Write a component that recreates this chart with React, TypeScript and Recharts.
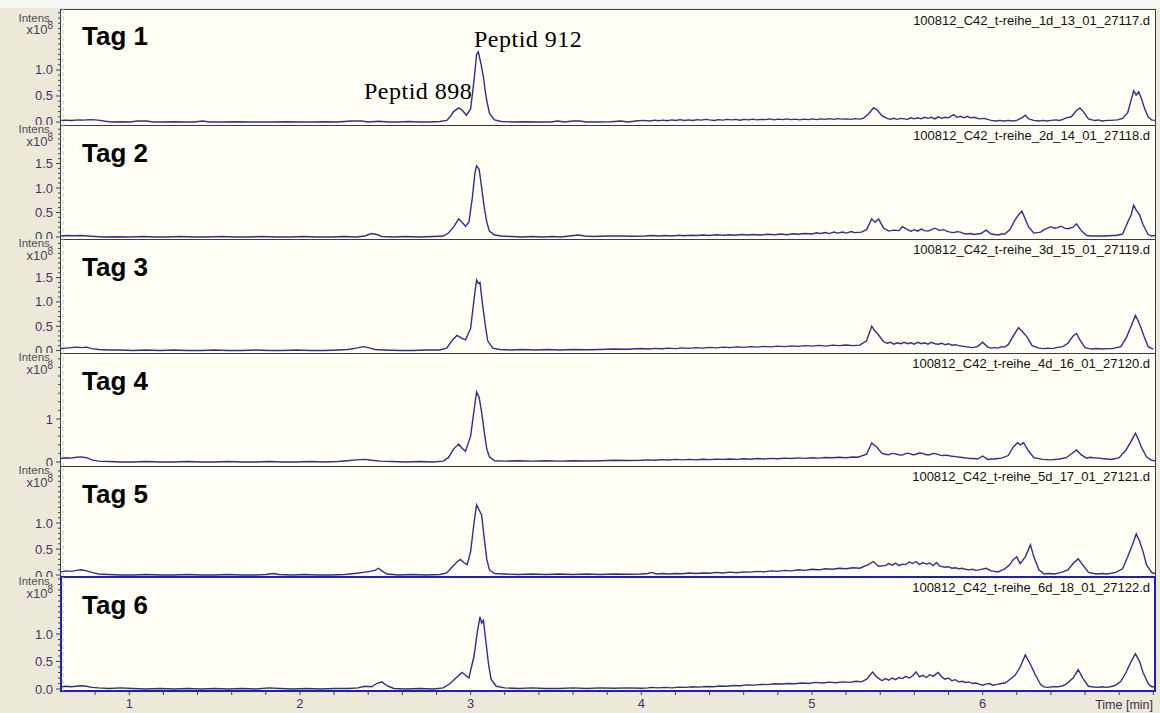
import React from 'react';
import { LineChart, Line, XAxis, YAxis, ReferenceLine } from 'recharts';

// ---------- data ----------
const timeDomain: [number, number] = [0.6, 7.01];
const xLabelTicks = [1, 2, 3, 4, 5, 6];
const tagLabels = ['Tag 1', 'Tag 2', 'Tag 3', 'Tag 4', 'Tag 5', 'Tag 6'];
const fileNames = [
  '100812_C42_t-reihe_1d_13_01_27117.d',
  '100812_C42_t-reihe_2d_14_01_27118.d',
  '100812_C42_t-reihe_3d_15_01_27119.d',
  '100812_C42_t-reihe_4d_16_01_27120.d',
  '100812_C42_t-reihe_5d_17_01_27121.d',
  '100812_C42_t-reihe_6d_18_01_27122.d',
];
const yLabelTicks = [
  [0, 0.5, 1.0],
  [0, 0.5, 1.0, 1.5],
  [0, 0.5, 1.0, 1.5],
  [0, 1],
  [0, 0.5, 1.0],
  [0, 0.5, 1.0],
];
const yDomains: [number, number][] = [
  [-0.058, 2.173],
  [-0.041, 2.286],
  [-0.051, 2.294],
  [-0.093, 2.535],
  [-0.038, 2.096],
  [-0.036, 2.036],
];
const peptideLabels = ['Peptid 912', 'Peptid 898'];

// intensities (x10^8) vs time [min]
const tag1: [number, number][] = [
  [0.60,0.03],[0.63,0.035],[0.66,0.03],[0.70,0.04],[0.73,0.035],[0.77,0.045],[0.80,0.04],[0.83,0.03],[0.86,0.015],[0.90,0.0],
  [0.95,0.005],[1.00,0.0],[1.05,0.02],[1.10,0.02],[1.14,0.0],[1.20,0.0],[1.26,0.005],[1.32,0.0],[1.38,0.0],[1.43,0.02],
  [1.47,0.0],[1.55,0.0],[1.62,0.005],[1.70,0.0],[1.78,0.0],[1.85,0.0],[1.92,0.005],[2.00,0.0],[2.08,0.0],[2.15,0.005],
  [2.22,0.0],[2.30,0.02],[2.36,0.02],[2.40,0.0],[2.46,0.015],[2.52,0.0],[2.58,0.0],[2.64,0.01],[2.70,0.0],[2.76,0.0],
  [2.82,0.01],[2.86,0.03],[2.88,0.1],[2.90,0.2],[2.93,0.27],[2.95,0.23],[2.975,0.13],[3.00,0.25],[3.02,0.8],[3.035,1.3],
  [3.045,1.35],[3.06,1.13],[3.075,0.87],[3.09,0.49],[3.11,0.17],[3.14,0.04],[3.18,0.01],[3.25,0.0],[3.32,0.005],[3.40,0.0],
  [3.47,0.0],[3.51,0.02],[3.55,0.0],[3.60,0.02],[3.64,0.02],[3.68,0.0],[3.75,0.0],[3.82,0.005],[3.88,0.02],[3.92,0.0],
  [3.97,0.02],[4.01,0.03],[4.05,0.02],[4.08,0.035],[4.10,0.025],[4.13,0.035],[4.15,0.025],[4.18,0.04],[4.20,0.03],[4.23,0.045],
  [4.25,0.03],[4.28,0.04],[4.30,0.03],[4.33,0.045],[4.35,0.035],[4.38,0.05],[4.40,0.04],[4.43,0.03],[4.45,0.045],[4.48,0.035],
  [4.50,0.05],[4.53,0.04],[4.55,0.05],[4.58,0.035],[4.60,0.05],[4.63,0.04],[4.65,0.055],[4.68,0.04],[4.70,0.05],[4.73,0.045],
  [4.75,0.06],[4.78,0.04],[4.80,0.055],[4.83,0.045],[4.85,0.06],[4.88,0.045],[4.90,0.055],[4.93,0.04],[4.95,0.055],[4.98,0.045],
  [5.00,0.06],[5.03,0.045],[5.05,0.06],[5.08,0.05],[5.10,0.065],[5.13,0.05],[5.15,0.065],[5.18,0.055],[5.20,0.06],[5.23,0.05],
  [5.25,0.065],[5.28,0.055],[5.30,0.07],[5.33,0.15],[5.36,0.27],
  [5.38,0.24],[5.41,0.12],[5.44,0.07],[5.46,0.05],[5.48,0.07],[5.50,0.05],[5.52,0.07],[5.54,0.06],[5.56,0.05],[5.58,0.08],
  [5.60,0.06],[5.62,0.08],[5.64,0.06],[5.66,0.09],[5.68,0.07],[5.70,0.09],[5.72,0.06],[5.74,0.1],[5.76,0.07],[5.78,0.09],
  [5.80,0.08],[5.83,0.14],[5.85,0.09],[5.87,0.11],[5.89,0.08],[5.91,0.11],[5.93,0.08],[5.95,0.09],[5.98,0.06],[6.01,0.07],
  [6.05,0.03],[6.08,0.02],[6.10,0.03],[6.13,0.02],[6.15,0.03],[6.18,0.02],[6.20,0.03],[6.23,0.08],[6.25,0.13],[6.27,0.06],
  [6.30,0.03],[6.33,0.02],[6.35,0.03],[6.38,0.02],[6.40,0.03],[6.43,0.04],[6.45,0.03],[6.47,0.05],[6.49,0.08],[6.52,0.1],
  [6.55,0.22],[6.57,0.27],[6.59,0.2],[6.62,0.06],[6.64,0.04],[6.66,0.03],[6.68,0.04],[6.70,0.02],[6.73,0.03],[6.75,0.03],
  [6.79,0.04],[6.82,0.07],[6.85,0.18],[6.87,0.42],[6.885,0.6],[6.90,0.52],[6.915,0.58],[6.93,0.45],[6.95,0.25],[6.97,0.1],
  [6.99,0.04],[7.01,0.03],
];
const tag2: [number, number][] = [
  [0.60,0.02],[0.64,0.03],[0.68,0.025],[0.72,0.03],[0.76,0.02],[0.80,0.01],[0.85,0.0],[0.92,0.005],[1.00,0.0],[1.08,0.01],
  [1.15,0.0],[1.22,0.0],[1.30,0.01],[1.38,0.0],[1.46,0.0],[1.54,0.01],[1.62,0.0],[1.70,0.0],[1.78,0.01],[1.86,0.0],
  [1.94,0.0],[2.02,0.01],[2.10,0.0],[2.18,0.0],[2.26,0.01],[2.33,0.0],[2.38,0.02],[2.42,0.07],[2.45,0.05],[2.48,0.01],
  [2.55,0.0],[2.62,0.01],[2.70,0.0],[2.78,0.01],[2.84,0.02],[2.87,0.08],[2.90,0.2],[2.93,0.37],[2.95,0.3],[2.97,0.22],
  [2.99,0.3],[3.01,0.8],[3.025,1.3],[3.035,1.45],[3.05,1.38],[3.065,1.0],[3.08,0.6],[3.095,0.3],[3.11,0.12],[3.14,0.04],
  [3.18,0.02],[3.24,0.01],[3.30,0.0],[3.36,0.01],[3.42,0.0],[3.48,0.01],[3.53,0.0],[3.58,0.02],[3.63,0.04],[3.67,0.02],
  [3.72,0.01],[3.80,0.02],[3.88,0.02],[3.95,0.015],[4.02,0.02],[4.06,0.03],[4.10,0.02],[4.14,0.03],[4.18,0.02],[4.22,0.035],
  [4.25,0.025],[4.29,0.035],[4.32,0.03],[4.36,0.04],[4.40,0.03],[4.44,0.045],[4.48,0.035],[4.52,0.045],[4.55,0.035],[4.59,0.05],
  [4.62,0.04],[4.66,0.05],[4.70,0.04],[4.74,0.055],[4.78,0.045],[4.82,0.06],[4.85,0.045],[4.89,0.065],[4.92,0.055],[4.96,0.07],
  [5.00,0.06],[5.03,0.085],[5.05,0.07],[5.08,0.09],[5.10,0.07],[5.13,0.1],[5.15,0.08],[5.18,0.1],[5.20,0.08],[5.23,0.11],
  [5.25,0.09],[5.29,0.1],[5.32,0.15],[5.35,0.37],[5.37,0.3],[5.39,0.37],[5.42,0.18],[5.45,0.12],
  [5.48,0.14],[5.51,0.13],[5.53,0.21],[5.56,0.15],[5.58,0.12],[5.60,0.15],[5.62,0.12],[5.64,0.16],[5.66,0.13],[5.68,0.12],
  [5.70,0.15],[5.72,0.18],[5.75,0.13],[5.77,0.15],[5.79,0.12],[5.81,0.1],[5.83,0.09],[5.85,0.11],[5.87,0.1],[5.89,0.07],
  [5.91,0.06],[5.93,0.07],[5.95,0.05],[5.97,0.06],[5.99,0.07],[6.02,0.14],[6.05,0.06],[6.07,0.05],[6.09,0.04],[6.11,0.06],
  [6.13,0.06],[6.16,0.15],[6.19,0.35],[6.21,0.45],[6.23,0.53],[6.25,0.36],[6.27,0.2],[6.30,0.08],[6.34,0.1],[6.36,0.15],
  [6.38,0.18],[6.40,0.21],[6.42,0.18],[6.44,0.19],[6.46,0.22],[6.48,0.18],[6.50,0.17],[6.53,0.2],[6.55,0.27],[6.58,0.12],
  [6.61,0.03],[6.64,0.02],[6.66,0.02],[6.70,0.02],[6.72,0.02],[6.76,0.03],[6.78,0.03],[6.82,0.06],
  [6.85,0.3],[6.87,0.45],[6.885,0.65],[6.90,0.55],[6.92,0.45],[6.94,0.25],[6.97,0.05],[6.99,0.02],[7.01,0.03],
];
const tag3: [number, number][] = [
  [0.60,0.04],[0.63,0.05],[0.66,0.06],[0.69,0.07],[0.72,0.06],[0.75,0.07],[0.78,0.04],[0.82,0.02],[0.88,0.01],[0.95,0.01],
  [1.02,0.0],[1.10,0.01],[1.18,0.0],[1.26,0.01],[1.34,0.0],[1.42,0.0],[1.50,0.01],[1.58,0.0],[1.66,0.0],[1.74,0.01],
  [1.82,0.0],[1.90,0.0],[1.98,0.01],[2.06,0.0],[2.14,0.0],[2.22,0.01],[2.28,0.02],[2.33,0.05],[2.37,0.08],[2.40,0.06],
  [2.44,0.02],[2.50,0.01],[2.58,0.0],[2.66,0.0],[2.74,0.01],[2.82,0.01],[2.86,0.05],[2.89,0.2],[2.92,0.31],[2.95,0.25],
  [2.97,0.22],[3.00,0.45],[3.02,1.05],[3.035,1.45],[3.045,1.38],[3.055,1.4],[3.07,0.95],[3.085,0.55],[3.10,0.2],[3.13,0.05],
  [3.17,0.02],[3.24,0.01],[3.30,0.02],[3.38,0.01],[3.45,0.02],[3.52,0.01],[3.60,0.02],[3.68,0.015],[3.76,0.02],[3.84,0.03],
  [3.92,0.025],[4.00,0.04],[4.04,0.03],[4.08,0.045],[4.12,0.035],[4.16,0.05],[4.20,0.04],[4.24,0.055],[4.28,0.045],[4.32,0.06],
  [4.36,0.05],[4.40,0.065],[4.44,0.055],[4.48,0.07],[4.52,0.06],[4.56,0.075],[4.60,0.065],[4.64,0.08],[4.68,0.07],[4.72,0.085],
  [4.76,0.075],[4.80,0.09],[4.84,0.08],[4.88,0.095],[4.92,0.085],[4.96,0.1],[5.00,0.09],[5.04,0.105],[5.08,0.09],[5.12,0.11],
  [5.16,0.1],[5.20,0.115],[5.24,0.1],[5.28,0.11],[5.32,0.2],
  [5.35,0.5],[5.37,0.4],[5.39,0.32],[5.42,0.18],[5.44,0.15],[5.46,0.17],[5.48,0.13],[5.50,0.16],[5.52,0.14],[5.54,0.17],
  [5.56,0.14],[5.58,0.16],[5.60,0.13],[5.62,0.17],[5.64,0.14],[5.66,0.16],[5.68,0.13],[5.70,0.17],[5.72,0.14],[5.74,0.13],
  [5.76,0.15],[5.78,0.12],[5.80,0.14],[5.82,0.11],[5.84,0.12],[5.86,0.1],[5.88,0.09],[5.90,0.08],[5.92,0.07],[5.94,0.06],
  [5.97,0.08],[6.00,0.17],[6.03,0.07],[6.05,0.05],[6.07,0.06],[6.09,0.05],[6.11,0.08],[6.13,0.07],[6.15,0.12],[6.18,0.3],
  [6.21,0.47],[6.23,0.4],[6.26,0.28],[6.29,0.1],[6.33,0.05],[6.36,0.04],[6.38,0.05],[6.41,0.04],
  [6.43,0.06],[6.47,0.08],[6.50,0.15],[6.53,0.3],[6.55,0.35],[6.57,0.22],[6.60,0.06],[6.64,0.03],[6.67,0.04],[6.70,0.03],
  [6.73,0.04],[6.76,0.04],[6.81,0.08],[6.84,0.25],[6.87,0.5],[6.895,0.72],[6.91,0.62],[6.93,0.45],[6.95,0.25],[6.97,0.08],[7.00,0.03],
];
const tag4: [number, number][] = [
  [0.60,0.08],[0.63,0.1],[0.66,0.09],[0.69,0.11],[0.72,0.12],[0.75,0.1],[0.78,0.05],[0.82,0.02],[0.88,0.01],[0.95,0.0],
  [1.02,0.0],[1.10,0.01],[1.18,0.0],[1.26,0.0],[1.34,0.01],[1.42,0.0],[1.50,0.0],[1.58,0.01],[1.66,0.0],[1.74,0.0],
  [1.82,0.01],[1.90,0.0],[1.98,0.0],[2.06,0.01],[2.14,0.0],[2.22,0.01],[2.28,0.03],[2.33,0.05],[2.38,0.06],[2.42,0.04],
  [2.47,0.02],[2.54,0.01],[2.62,0.0],[2.70,0.01],[2.78,0.0],[2.84,0.02],[2.87,0.1],[2.90,0.3],[2.93,0.42],[2.95,0.32],
  [2.97,0.25],[3.00,0.6],[3.02,1.2],[3.035,1.63],[3.05,1.5],[3.065,1.15],[3.08,0.7],[3.095,0.3],[3.11,0.12],[3.14,0.03],
  [3.20,0.02],[3.28,0.03],[3.36,0.02],[3.44,0.03],[3.52,0.02],[3.60,0.03],[3.68,0.025],[3.76,0.03],[3.84,0.04],[3.92,0.035],
  [4.00,0.04],[4.04,0.05],[4.08,0.04],[4.12,0.055],[4.16,0.045],[4.20,0.06],[4.24,0.05],[4.28,0.06],[4.32,0.05],[4.36,0.065],
  [4.40,0.055],[4.44,0.065],[4.48,0.06],[4.52,0.07],[4.56,0.06],[4.60,0.075],[4.64,0.065],[4.68,0.08],[4.72,0.07],[4.76,0.085],
  [4.80,0.075],[4.84,0.09],[4.88,0.08],[4.92,0.095],[4.96,0.085],[5.00,0.1],[5.04,0.09],[5.08,0.105],[5.12,0.1],[5.16,0.11],
  [5.20,0.1],[5.24,0.115],[5.27,0.11],[5.32,0.18],[5.35,0.44],[5.38,0.35],
  [5.41,0.2],[5.43,0.18],[5.45,0.17],[5.47,0.2],[5.49,0.19],[5.51,0.17],[5.53,0.16],[5.55,0.2],[5.57,0.2],[5.59,0.17],
  [5.61,0.18],[5.63,0.21],[5.65,0.2],[5.67,0.17],[5.69,0.17],[5.71,0.2],[5.73,0.19],[5.75,0.16],[5.77,0.15],[5.79,0.16],
  [5.81,0.14],[5.83,0.13],[5.85,0.12],[5.87,0.11],[5.89,0.1],[5.91,0.09],[5.93,0.08],[5.95,0.08],[5.97,0.07],[6.00,0.14],
  [6.03,0.06],[6.05,0.07],[6.07,0.07],[6.09,0.08],[6.11,0.09],[6.15,0.15],
  [6.18,0.35],[6.205,0.45],[6.22,0.4],[6.24,0.45],[6.27,0.25],[6.30,0.1],[6.35,0.06],[6.40,0.05],[6.45,0.07],[6.49,0.1],
  [6.53,0.22],[6.55,0.28],[6.58,0.16],[6.61,0.09],[6.63,0.11],[6.65,0.1],[6.68,0.09],[6.70,0.08],[6.73,0.07],[6.75,0.06],
  [6.78,0.08],[6.80,0.1],[6.84,0.28],[6.87,0.48],
  [6.895,0.67],[6.91,0.55],[6.93,0.35],[6.96,0.12],[6.99,0.04],[7.01,0.03],
];
const tag5: [number, number][] = [
  [0.60,0.06],[0.63,0.08],[0.66,0.07],[0.69,0.09],[0.72,0.1],[0.75,0.08],[0.78,0.05],[0.82,0.02],[0.88,0.01],[0.95,0.0],
  [1.02,0.0],[1.10,0.01],[1.18,0.0],[1.26,0.0],[1.34,0.01],[1.42,0.0],[1.50,0.0],[1.58,0.01],[1.66,0.0],[1.74,0.0],
  [1.80,0.01],[1.84,0.03],[1.88,0.01],[1.95,0.0],[2.03,0.01],[2.10,0.0],[2.18,0.0],[2.26,0.01],[2.32,0.03],[2.37,0.05],
  [2.41,0.07],[2.44,0.09],[2.46,0.13],[2.48,0.08],[2.51,0.02],[2.58,0.0],[2.66,0.01],[2.74,0.0],[2.82,0.01],[2.86,0.04],
  [2.89,0.15],[2.92,0.25],[2.94,0.3],[2.96,0.24],[2.98,0.2],[3.00,0.45],[3.02,1.0],[3.035,1.35],[3.05,1.25],[3.065,1.15],
  [3.08,0.7],[3.095,0.3],[3.11,0.1],[3.14,0.03],[3.20,0.02],[3.28,0.01],[3.36,0.02],[3.44,0.01],[3.52,0.02],[3.60,0.01],
  [3.68,0.02],[3.76,0.01],[3.84,0.02],[3.92,0.015],[4.00,0.02],[4.04,0.03],[4.06,0.05],[4.09,0.02],[4.13,0.03],[4.16,0.02],
  [4.20,0.03],[4.24,0.025],[4.28,0.04],[4.32,0.03],[4.36,0.04],[4.40,0.035],[4.44,0.05],[4.48,0.04],[4.52,0.055],[4.56,0.045],
  [4.60,0.06],[4.64,0.055],[4.68,0.07],[4.72,0.06],[4.76,0.08],[4.80,0.07],[4.84,0.09],[4.88,0.08],[4.92,0.1],[4.96,0.09],
  [5.00,0.11],[5.04,0.1],[5.08,0.12],[5.12,0.11],[5.16,0.13],[5.20,0.12],[5.24,0.14],[5.28,0.13],[5.33,0.2],[5.36,0.26],
  [5.39,0.17],[5.43,0.18],[5.45,0.22],[5.47,0.19],[5.49,0.23],[5.51,0.18],[5.53,0.21],[5.55,0.2],[5.57,0.25],[5.59,0.22],
  [5.61,0.26],[5.63,0.2],[5.65,0.24],[5.67,0.21],[5.69,0.23],[5.71,0.18],[5.73,0.24],[5.75,0.17],[5.78,0.15],[5.80,0.16],
  [5.82,0.13],[5.84,0.14],[5.86,0.12],[5.88,0.13],[5.90,0.11],[5.92,0.1],[5.94,0.11],[5.96,0.09],[5.98,0.1],
  [6.02,0.13],[6.05,0.08],[6.07,0.07],[6.09,0.06],[6.11,0.09],[6.13,0.12],[6.16,0.2],[6.18,0.3],[6.20,0.35],[6.22,0.22],
  [6.25,0.35],[6.28,0.58],[6.30,0.35],[6.33,0.1],[6.36,0.02],[6.39,0.03],[6.42,0.02],[6.45,0.04],[6.47,0.06],[6.50,0.1],
  [6.53,0.22],[6.56,0.31],[6.59,0.18],[6.62,0.05],[6.65,0.03],[6.67,0.02],[6.70,0.03],[6.73,0.02],[6.78,0.05],[6.82,0.12],
  [6.85,0.35],[6.88,0.6],[6.90,0.79],[6.92,0.65],[6.94,0.45],[6.96,0.2],[6.99,0.05],[7.01,0.03],
];
const tag6: [number, number][] = [
  [0.60,0.04],[0.63,0.05],[0.66,0.04],[0.69,0.05],[0.72,0.06],[0.75,0.05],[0.78,0.03],[0.82,0.02],[0.88,0.01],[0.95,0.02],
  [1.02,0.01],[1.10,0.0],[1.18,0.01],[1.26,0.0],[1.34,0.01],[1.42,0.0],[1.50,0.01],[1.58,0.0],[1.66,0.01],[1.74,0.0],
  [1.82,0.02],[1.88,0.01],[1.96,0.0],[2.04,0.01],[2.12,0.0],[2.20,0.01],[2.28,0.01],[2.34,0.02],[2.38,0.05],[2.42,0.04],
  [2.45,0.1],[2.48,0.13],[2.51,0.06],[2.55,0.01],[2.62,0.0],[2.70,0.01],[2.78,0.0],[2.84,0.02],[2.88,0.1],[2.92,0.22],
  [2.95,0.3],[2.97,0.25],[2.99,0.2],[3.02,0.6],[3.04,1.05],[3.055,1.31],[3.065,1.2],[3.075,1.25],[3.09,0.85],[3.105,0.45],
  [3.12,0.18],[3.15,0.05],[3.20,0.02],[3.28,0.01],[3.36,0.02],[3.44,0.01],[3.52,0.01],[3.60,0.02],[3.68,0.01],[3.76,0.02],
  [3.84,0.015],[3.92,0.02],[4.00,0.015],[4.04,0.02],[4.06,0.03],[4.10,0.02],[4.14,0.03],[4.18,0.02],[4.22,0.035],[4.26,0.03],
  [4.30,0.04],[4.34,0.035],[4.38,0.045],[4.42,0.04],[4.46,0.055],[4.50,0.05],[4.54,0.065],[4.58,0.06],[4.62,0.075],[4.66,0.07],
  [4.70,0.085],[4.74,0.08],[4.78,0.095],[4.82,0.09],[4.86,0.1],[4.90,0.095],[4.94,0.11],[4.98,0.1],[5.02,0.12],[5.06,0.11],
  [5.10,0.125],[5.14,0.115],[5.18,0.13],[5.22,0.12],[5.26,0.14],[5.29,0.13],
  [5.32,0.18],[5.355,0.31],[5.38,0.22],[5.41,0.15],[5.43,0.19],[5.45,0.16],[5.47,0.2],[5.49,0.17],[5.51,0.21],[5.53,0.19],
  [5.55,0.23],[5.57,0.2],[5.59,0.24],[5.61,0.31],[5.63,0.22],[5.65,0.25],[5.67,0.21],[5.69,0.26],[5.71,0.23],[5.73,0.28],
  [5.74,0.3],[5.76,0.22],[5.78,0.18],[5.80,0.2],[5.82,0.15],[5.84,0.17],[5.86,0.13],[5.88,0.14],[5.90,0.12],[5.92,0.13],
  [5.94,0.1],[5.96,0.11],[5.98,0.09],[6.00,0.07],[6.02,0.09],[6.04,0.1],[6.06,0.07],[6.08,0.08],[6.11,0.1],[6.13,0.11],
  [6.15,0.15],[6.19,0.25],[6.22,0.4],[6.25,0.62],[6.28,0.45],[6.31,0.25],[6.34,0.08],[6.36,0.04],
  [6.38,0.03],[6.41,0.04],[6.44,0.04],[6.47,0.06],[6.49,0.09],[6.53,0.2],[6.56,0.35],[6.59,0.18],[6.62,0.05],[6.64,0.04],
  [6.67,0.03],[6.70,0.04],[6.73,0.03],[6.76,0.05],[6.78,0.07],
  [6.81,0.14],[6.84,0.3],[6.87,0.5],[6.895,0.64],[6.92,0.5],[6.94,0.3],[6.97,0.1],[6.99,0.04],[7.01,0.04],
];
const traces = [tag1, tag2, tag3, tag4, tag5, tag6];

// ---------- layout / style ----------
const W = 1160;
const H = 713;
const PLOT_LEFT = 61;
const PLOT_RIGHT = 1155;
const panelTops = [9, 125, 239, 353, 466, 577];
const panelBottoms = [125, 239, 353, 466, 577, 691];
const labelAnchors = [13.5, 125, 239, 353, 466, 577];
const yMinorSteps = [0.1, 0.1, 0.1, 0.2, 0.1, 0.1];
const X_AXIS_H = 22;
const TRACE = '#2D2D9B';
const BEIGE = '#ECE9D8';
const IVORY = '#FFFFF6';
const NUM_COLOR = '#4B3068';
const SANS = '"Liberation Sans", Arial, sans-serif';
const SERIF = '"Liberation Serif", "Times New Roman", serif';

const xMinorTicks: number[] = [];
for (let k = 4; k <= 35; k++) xMinorTicks.push(Math.round(k * 20) / 100);

function yTicksFor(i: number): number[] {
  const out: number[] = [];
  const step = yMinorSteps[i];
  const n = Math.floor(yDomains[i][1] / step + 1e-9);
  for (let k = 0; k <= n; k++) out.push(Math.round(k * step * 100) / 100);
  return out;
}

const fmtY = (i: number, v: number) => (i === 3 ? String(Math.round(v)) : v.toFixed(1));

function makeYTick(i: number) {
  const labels = yLabelTicks[i];
  return (props: any) => {
    const { x, y, payload } = props;
    const v = payload.value;
    const isLabel = labels.some((l) => Math.abs(l - v) < 1e-6);
    return (
      <g>
        <line x1={x - (isLabel ? 5 : 3)} x2={x} y1={y} y2={y} stroke="#404040" strokeWidth={1} />
        {isLabel && (
          <text x={x - 8} y={y + 4.5} textAnchor="end" fontSize={13} fill={NUM_COLOR} fontFamily={SANS}>
            {fmtY(i, v)}
          </text>
        )}
      </g>
    );
  };
}

const XTick = (props: any) => {
  const { x, y, payload } = props;
  const v = payload.value;
  const isLabel = xLabelTicks.some((l) => Math.abs(l - v) < 1e-6);
  return (
    <g>
      <line x1={x} x2={x} y1={y} y2={y + 4} stroke="#404040" strokeWidth={1} />
      {isLabel && (
        <text x={x} y={y + 17} textAnchor="middle" fontSize={13} fill={NUM_COLOR} fontFamily={SANS}>
          {String(v)}
        </text>
      )}
    </g>
  );
};

function Panel({ i }: { i: number }) {
  const top = panelTops[i];
  const ph = panelBottoms[i] - top;
  const last = i === 5;
  const data = traces[i].map(([t, v]) => ({ t, v }));
  return (
    <>
      <div
        style={{
          position: 'absolute',
          left: PLOT_LEFT - 1,
          top: last ? top - 1 : top,
          width: PLOT_RIGHT - PLOT_LEFT + 2,
          height: last ? ph + 2 : ph + 1,
          boxSizing: 'border-box',
          background: IVORY,
          border: last ? '2px solid #1C1CC8' : '1px solid #3C3C3C',
        }}
      />
      <div style={{ position: 'absolute', left: 0, top }}>
        <LineChart
          width={W}
          height={ph + (last ? X_AXIS_H : 0)}
          data={data}
          margin={{ top: 0, right: W - PLOT_RIGHT, bottom: 0, left: 0 }}
        >
          <XAxis
            type="number"
            dataKey="t"
            domain={timeDomain}
            allowDataOverflow
            hide={!last}
            ticks={xMinorTicks}
            interval={0}
            height={X_AXIS_H}
            axisLine={false}
            tickLine={false}
            tickSize={0}
            tickMargin={0}
            tick={XTick}
          />
          <YAxis
            type="number"
            dataKey="v"
            domain={yDomains[i]}
            allowDataOverflow
            width={PLOT_LEFT}
            ticks={yTicksFor(i)}
            interval={0}
            axisLine={false}
            tickLine={false}
            tickSize={0}
            tickMargin={0}
            tick={makeYTick(i)}
          />
          <ReferenceLine x={0.612} stroke="#A9CBF2" strokeDasharray="4 3" strokeWidth={1} />
          <Line
            type="linear"
            dataKey="v"
            stroke={TRACE}
            strokeWidth={1.4}
            dot={false}
            activeDot={false}
            isAnimationActive={false}
          />
        </LineChart>
      </div>
    </>
  );
}

export default function App() {
  return (
    <div
      style={{
        position: 'absolute',
        left: 0,
        top: 0,
        width: W,
        height: H,
        background: BEIGE,
        overflow: 'hidden',
        fontFamily: SANS,
      }}
    >
      <div style={{ position: 'absolute', left: 0, top: 0, width: W, height: 8, background: '#F6F6F4' }} />
      {[0, 1, 2, 3, 4, 5].map((i) => (
        <Panel key={i} i={i} />
      ))}
      <svg
        width={W}
        height={H}
        style={{ position: 'absolute', left: 0, top: 0, pointerEvents: 'none' }}
      >
        {panelTops.map((top, i) => (
          <g key={i}>
            <text x={53} y={labelAnchors[i] + 8} textAnchor="end" fontSize={11.5} fill="#505050" fontFamily={SANS}>
              Intens.
            </text>
            <text x={53} y={labelAnchors[i] + 20.5} textAnchor="end" fontSize={13} fill="#4A4060" fontFamily={SANS}>
              <tspan>x10</tspan>
              <tspan dy={-5} fontSize={10}>8</tspan>
            </text>
            <text x={82} y={top + (i === 0 ? 36 : 37)} fontSize={26} fontWeight="bold" fill="#000" fontFamily={SANS}>
              {tagLabels[i]}
            </text>
            <text x={1150} y={top + (i === 0 ? 16 : 15)} textAnchor="end" fontSize={13} fill="#111" fontFamily={SANS}>
              {fileNames[i]}
            </text>
          </g>
        ))}
        <text x={474} y={47} fontSize={24} letterSpacing={0.5} fill="#000" fontFamily={SERIF}>
          {peptideLabels[0]}
        </text>
        <text x={364} y={99} fontSize={24} letterSpacing={0.5} fill="#000" fontFamily={SERIF}>
          {peptideLabels[1]}
        </text>
        <text x={1153} y={709} textAnchor="end" fontSize={12.5} fill="#3B2C55" fontFamily={SANS}>
          Time [min]
        </text>
      </svg>
    </div>
  );
}
